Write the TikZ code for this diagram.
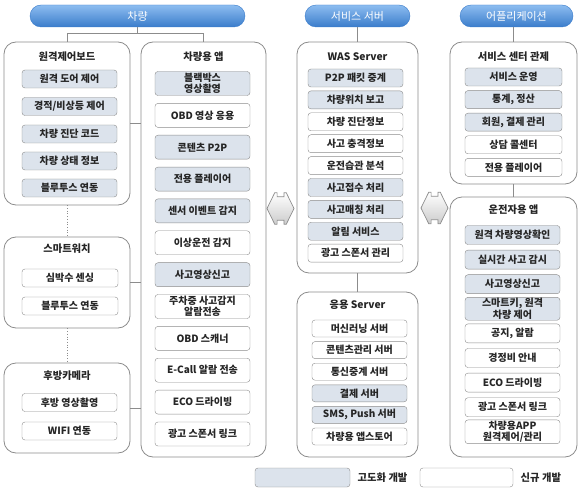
\documentclass[tikz,border=0pt]{standalone}
\usepackage{fontspec}
\setmainfont{Noto Sans CJK KR}
\usetikzlibrary{positioning}
\definecolor{hdrtop}{HTML}{8DBDF0}
\definecolor{hdrbot}{HTML}{3A7CCB}
\definecolor{upgfill}{HTML}{DCE3EC}
\definecolor{edgegray}{HTML}{8C8C8C}
\definecolor{txt}{HTML}{262626}

\begin{document}
\begin{tikzpicture}[x=1pt,y=-1pt,
                    head node/.style={rounded corners=11pt,top color=hdrtop,bottom color=hdrbot,draw=hdrbot,
                                      text=white,minimum height=22pt,font=\fontsize{11}{12}\selectfont},
                    panel/.style={draw=edgegray,rounded corners=12pt,line width=0.8pt,fill=white},
                    title node/.style={text=txt,font=\bfseries\fontsize{10.3}{12}\selectfont},
                    item/.style={draw=edgegray,rounded corners=3pt,minimum width=95pt,minimum height=18pt,
                                 inner sep=1pt,align=center,text=txt,font=\bfseries\fontsize{10}{11.5}\selectfont},
                    graybox/.style={item,fill=upgfill},
                    whitebox/.style={item,fill=white},
                    link/.style={draw=edgegray,line width=0.7pt}
                   ]
  \useasboundingbox (0,0) rectangle (584,497);

  % 차량
  \node[head node,minimum width=215pt] (carhdr) at (137.5,16) {차량};
  \node[panel,minimum width=126pt,minimum height=163pt] (remote) at (67,123.5) {};
  \node[panel,minimum width=126pt,minimum height=91pt] (watch) at (67,282.5) {};
  \node[panel,minimum width=126pt,minimum height=90pt] (rear) at (67,408) {};
  \node[panel,minimum width=125pt,minimum height=415pt] (carapp) at (203.5,249.5) {};

  \node[title node] at (67,57) {원격제어보드};
  \node[title node] at (67,249) {스마트워치};
  \node[title node] at (67,376) {후방카메라};
  \node[title node] at (203.5,57) {차량용 앱};

  \foreach \t/\y [count=\i] in {원격 도어 제어/79,{경적/비상등 제어}/106.5,차량 진단 코드/134,
                                 차량 상태 정보/161,블루투스 연동/188}
    \node[graybox] (rc\i) at (69.5,\y) {\t};
  \node[whitebox,minimum width=96pt] (sw1) at (70,278) {심박수 센싱};
  \node[whitebox,minimum width=96pt] (sw2) at (70,306) {블루투스 연동};
  \node[whitebox] (rv1) at (69.5,402.5) {후방 영상촬영};
  \node[whitebox] (rv2) at (69.5,431) {WIFI 연동};

  \foreach \s/\t/\y [count=\i] in {graybox/{블랙박스\\영상촬영}/83.5,whitebox/{OBD 영상 응용}/115.4,
                                    graybox/{콘텐츠 P2P}/147.2,graybox/{전용 플레이어}/179.1,
                                    graybox/{센서 이벤트 감지}/210.9,whitebox/{이상운전 감지}/242.8,
                                    graybox/{사고영상신고}/274.7,whitebox/{주차중 사고감지\\알람전송}/306.5,
                                    whitebox/{OBD 스캐너}/338.4,whitebox/{E-Call 알람 전송}/370.2,
                                    whitebox/{ECO 드라이빙}/402.1,whitebox/{광고 스폰서 링크}/434}
    \node[\s,minimum height=24pt] (ca\i) at (202.5,\y) {\t};

  \draw[link] (carhdr.south) -- ++(0,6) coordinate (cj);
  \draw[link] (remote.north) |- (cj) -| (carapp.north);
  \draw[link] (remote.east) -- (remote.east -| carapp.west);
  \draw[link] (watch.east) -- (watch.east -| carapp.west);
  \draw[link] (rear.east) -- (rear.east -| carapp.west);
  \draw[link,dotted] (remote.south) -- (watch.north);
  \draw[link,dotted] (watch.south) -- (rear.north);

  % 서비스 서버
  \node[head node,minimum width=105pt] (srvhdr) at (357.5,16) {서비스 서버};
  \node[panel,minimum width=121pt,minimum height=231pt] (was) at (357.5,157.5) {};
  \node[panel,minimum width=121pt,minimum height=165pt] (appsrv) at (357.5,374.5) {};
  \node[title node] at (357.5,57) {WAS Server};
  \node[title node] at (357.5,305) {응용 Server};

  \foreach \s/\t [count=\i] in {graybox/{P2P 패킷 중계},graybox/{차량위치 보고},whitebox/{차량 진단정보},
                                 whitebox/{사고 충격정보},whitebox/{운전습관 분석},graybox/{사고접수 처리},
                                 graybox/{사고매칭 처리},graybox/{알림 서비스},whitebox/{광고 스폰서 관리}}
    \node[\s] (ws\i) at (355.5,56.1+21.9*\i) {\t};
  \foreach \s/\t [count=\i] in {whitebox/{머신러닝 서버},whitebox/{콘텐츠관리 서버},whitebox/{통신중계 서버},
                                 graybox/{결제 서버},graybox/{SMS, Push 서버},whitebox/{차량용 앱스토어}}
    \node[\s,minimum height=17pt] (as\i) at (359.5,306.9+21.6*\i) {\t};

  \draw[link] (srvhdr.south) -- (was.north);
  \draw[link] (was.south) -- (appsrv.north);

  % 어플리케이션
  \node[head node,minimum width=113pt] (apphdr) at (516.5,16) {어플리케이션};
  \node[panel,minimum width=127pt,minimum height=142pt] (ctrl) at (513.5,113) {};
  \node[panel,minimum width=127pt,minimum height=260pt] (drv) at (513.5,327) {};
  \node[title node] at (513.5,57) {서비스 센터 관제};
  \node[title node] at (513.5,210) {운전자용 앱};

  \foreach \s/\t [count=\i] in {graybox/{서비스 운영},graybox/{통계, 정산},graybox/{회원, 결제 관리},
                                 whitebox/{상담 콜센터},whitebox/{전용 플레이어}}
    \node[\s,minimum width=97pt] (sc\i) at (513.5,54.4+22.6*\i) {\t};
  \foreach \s/\t [count=\i] in {graybox/{원격 차량영상확인},graybox/{실시간 사고 감시},graybox/{사고영상신고},
                                 graybox/{스마트키, 원격\\차량 제어},whitebox/{공지, 알람},whitebox/{경정비 안내},
                                 whitebox/{ECO 드라이빙},whitebox/{광고 스폰서 링크},whitebox/{차량용APP\\원격제어/관리}}
    \node[\s,minimum height=19pt] (da\i) at (512.5,210.4+24.6*\i) {\t};

  \draw[link] (ctrl.north) -- (ctrl.north |- apphdr.south);
  \draw[link] (ctrl.south) -- (drv.north);

  % 양방향 화살표
  \foreach \cx/\cy in {280.5/208.5,434.5/208}
    \draw[draw=edgegray,line width=0.7pt,top color=white,bottom color=gray!40,shift={(\cx,\cy)}]
      (-13.5,0) -- (-5.8,-15.7) -- (-3.4,-15.7) -- (-3.4,-11.7) -- (3.4,-11.7) -- (3.4,-15.7)
      -- (5.8,-15.7) -- (13.5,0) -- (5.8,15.7) -- (3.4,15.7) -- (3.4,11.7) -- (-3.4,11.7)
      -- (-3.4,15.7) -- (-5.8,15.7) -- cycle;

  % 범례
  \node[graybox,minimum height=19pt] (lgold) at (302.5,477.5) {};
  \node[title node,right=4pt of lgold] (lgoldtxt) {고도화 개발};
  \node[whitebox,minimum width=93pt,minimum height=19pt] (lgnew) at (466.5,477.5) {};
  \node[title node,right=4pt of lgnew] (lgnewtxt) {신규 개발};
\end{tikzpicture}
\end{document}
